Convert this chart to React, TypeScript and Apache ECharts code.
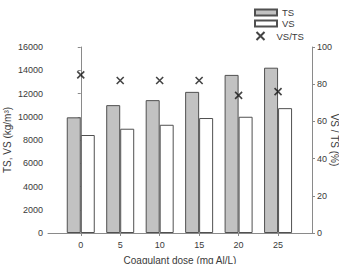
import React, { useEffect, useRef } from "react";
import * as echarts from "echarts";

// Coagulant dose (mg Al/L)
const doses = [0, 5, 10, 15, 20, 25];
// Total solids and volatile solids (kg/m³)
const tsValues = [9950, 11000, 11430, 12140, 13600, 14220];
const vsValues = [8430, 8970, 9310, 9890, 10000, 10740];
// VS / TS ratio (%)
const ratioValues = [85, 82, 82, 82, 74, 76];
// Tick labels
const leftTicks = [0, 2000, 4000, 6000, 8000, 10000, 12000, 14000, 16000];
const rightTicks = [0, 20, 40, 60, 80, 100];

const FONT = "'Liberation Sans', Arial, sans-serif";
const TEXT = "#3a3a3a";
const AXIS = "#8a8a8a";
const CROSS = "path://M0 0L10 10M0 10L10 0";

export default function App() {
  const ref = useRef<HTMLDivElement>(null);

  useEffect(() => {
    if (!ref.current) return;
    const chart = echarts.init(ref.current, undefined, { renderer: "svg" });
    const axisLine = { show: true, lineStyle: { color: AXIS, width: 1 } };
    const axisTick = { show: true, inside: false, length: 3, lineStyle: { color: AXIS } };
    const label = { color: TEXT, fontSize: 9, fontFamily: FONT };

    chart.setOption({
      animation: false,
      backgroundColor: "#fff",
      textStyle: { fontFamily: FONT },
      grid: {
        left: 48,
        right: 27,
        top: 47,
        bottom: 31,
        containLabel: false,
        outerBoundsMode: "none",
      },
      legend: [
        {
          data: [
            { name: "TS", icon: "rect" },
            { name: "VS", icon: "rect" },
          ],
          orient: "vertical",
          left: 254,
          top: 7,
          padding: 0,
          itemWidth: 22,
          itemHeight: 6,
          itemGap: 0,
          textStyle: { color: TEXT, fontSize: 9.5, fontFamily: FONT, lineHeight: 11 },
        },
        {
          data: [{ name: "VS/TS", icon: CROSS }],
          orient: "vertical",
          left: 254,
          top: 29.5,
          padding: 0,
          itemWidth: 22,
          itemHeight: 8,
          symbolKeepAspect: true,
          textStyle: { color: TEXT, fontSize: 9.5, fontFamily: FONT, lineHeight: 11 },
        },
      ],
      xAxis: {
        type: "value",
        min: -4.15,
        max: 29.3,
        name: "Coagulant dose (mg Al/L)",
        nameLocation: "middle",
        nameGap: 22,
        nameMoveOverlap: false,
        nameTextStyle: { color: TEXT, fontSize: 10, fontFamily: FONT },
        axisLine,
        axisTick: { ...axisTick, customValues: doses },
        axisLabel: { ...label, margin: 7, customValues: doses },
        splitLine: { show: false },
      },
      yAxis: [
        {
          type: "value",
          min: leftTicks[0],
          max: leftTicks[leftTicks.length - 1],
          interval: 2000,
          name: "TS, VS (kg/m³)",
          nameLocation: "middle",
          nameGap: 36,
          nameMoveOverlap: false,
          nameTextStyle: { color: TEXT, fontSize: 10, fontFamily: FONT },
          axisLine,
          axisTick,
          axisLabel: { ...label, margin: 5, formatter: (v: number) => String(v) },
          splitLine: { show: false },
        },
        {
          type: "value",
          min: rightTicks[0],
          max: rightTicks[rightTicks.length - 1],
          interval: 20,
          position: "right",
          name: "VS / TS (%)",
          nameLocation: "middle",
          nameGap: 17,
          nameRotate: -90,
          nameMoveOverlap: false,
          nameTextStyle: { color: TEXT, fontSize: 10, fontFamily: FONT },
          axisLine,
          axisTick,
          axisLabel: { ...label, margin: 5 },
          splitLine: { show: false },
        },
      ],
      series: [
        {
          name: "TS",
          type: "bar",
          yAxisIndex: 0,
          barWidth: 14,
          barGap: "0%",
          data: doses.map((d, i) => [d, tsValues[i]]),
          itemStyle: { color: "#c2c2c2", borderColor: "#505050", borderWidth: 1 },
        },
        {
          name: "VS",
          type: "bar",
          yAxisIndex: 0,
          barWidth: 14,
          barGap: "0%",
          data: doses.map((d, i) => [d, vsValues[i]]),
          itemStyle: { color: "#ffffff", borderColor: "#505050", borderWidth: 1 },
        },
        {
          name: "VS/TS",
          type: "scatter",
          yAxisIndex: 1,
          symbol: CROSS,
          symbolSize: 7,
          data: doses.map((d, i) => [d, ratioValues[i]]),
          itemStyle: { color: "none", borderColor: "#151515", borderWidth: 1.6 },
          z: 5,
        },
      ],
    });

    return () => chart.dispose();
  }, []);

  return (
    <div
      ref={ref}
      style={{ position: "fixed", left: 0, top: 0, width: 339, height: 264 }}
    />
  );
}
